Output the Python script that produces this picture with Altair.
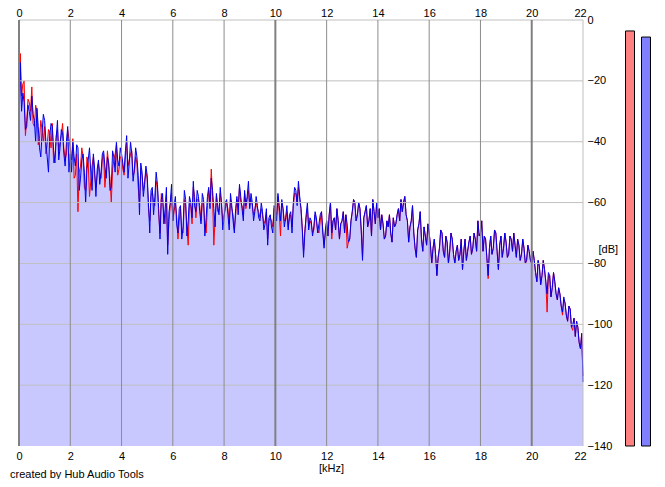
import altair as alt
import pandas as pd

FONT = "Liberation Sans"

freq_khz = [round(i * 0.05, 2) for i in range(441)]

# spectrum, left channel (blue), one row per kHz, 0.05 kHz steps
blue_db = [
    -36, -14, -30, -24, -27, -36, -35, -28, -30, -33, -25, -31, -33, -40, -29, -35, -42, -45, -37, -31,
    -33, -40, -45, -50, -38, -34, -35, -43, -47, -39, -33, -46, -42, -36, -37, -44, -48, -40, -35, -50,
    -44, -50, -40, -45, -48, -41, -42, -56, -52, -46, -44, -50, -60, -49, -46, -42, -50, -56, -44, -49,
    -58, -49, -46, -54, -50, -44, -43, -48, -52, -45, -47, -56, -55, -43, -45, -50, -40, -46, -48, -42,
    -44, -47, -50, -43, -38, -52, -47, -40, -44, -53, -49, -42, -45, -51, -64, -47, -50, -58, -54, -48,
    -51, -60, -70, -56, -55, -64, -58, -50, -54, -62, -72, -59, -57, -67, -62, -55, -77, -63, -60, -54,
    -66, -61, -58, -67, -70, -62, -61, -72, -68, -56, -59, -71, -66, -58, -60, -65, -53, -61, -63, -56,
    -58, -63, -67, -57, -59, -71, -65, -58, -55, -62, -52, -56, -62, -68, -57, -61, -64, -55, -60, -69,
    -65, -60, -59, -64, -69, -57, -61, -66, -70, -62, -58, -64, -54, -58, -62, -66, -56, -61, -58, -53,
    -62, -57, -60, -66, -63, -58, -61, -65, -66, -60, -63, -69, -67, -62, -74, -65, -64, -68, -70, -61,
    -62, -66, -57, -61, -66, -59, -62, -68, -65, -61, -69, -64, -63, -70, -60, -55, -56, -61, -53, -58,
    -62, -69, -78, -70, -64, -60, -69, -65, -66, -71, -68, -63, -65, -70, -67, -64, -63, -70, -75, -69,
    -66, -71, -64, -60, -70, -66, -65, -69, -62, -66, -72, -67, -66, -63, -70, -64, -67, -73, -72, -66,
    -63, -59, -60, -66, -64, -60, -62, -69, -79, -65, -63, -61, -68, -66, -62, -71, -59, -63, -67, -60,
    -65, -62, -69, -64, -67, -72, -71, -66, -68, -64, -70, -73, -65, -68, -67, -64, -62, -66, -59, -63,
    -60, -58, -64, -66, -73, -68, -66, -61, -70, -75, -78, -69, -67, -63, -72, -76, -68, -71, -74, -67,
    -70, -74, -80, -75, -72, -77, -84, -78, -75, -69, -70, -76, -78, -71, -73, -80, -76, -70, -72, -77,
    -80, -76, -74, -79, -77, -72, -82, -76, -72, -79, -76, -73, -71, -77, -75, -70, -72, -76, -66, -71,
    -70, -66, -76, -71, -72, -78, -84, -75, -71, -77, -75, -69, -70, -76, -82, -74, -71, -78, -75, -70,
    -73, -78, -77, -71, -72, -76, -70, -74, -78, -72, -74, -79, -77, -72, -75, -80, -79, -74, -76, -79,
    -80, -76, -79, -83, -86, -79, -81, -87, -84, -79, -82, -86, -90, -83, -84, -91, -88, -83, -86, -90,
    -92, -88, -90, -94, -96, -91, -93, -97, -99, -94, -95, -101, -100, -98, -104, -99, -101, -106, -108, -103,
    -119,
]

# spectrum, right channel (red)
red_db = [
    -38, -11, -25, -21, -20, -38, -33, -26, -27, -30, -22, -34, -35, -28, -30, -41, -39, -33, -36, -40,
    -35, -44, -41, -36, -37, -42, -34, -47, -45, -38, -36, -43, -40, -38, -34, -42, -46, -44, -36, -39,
    -42, -46, -39, -52, -51, -44, -63, -50, -48, -42, -45, -55, -56, -45, -47, -58, -53, -48, -45, -51,
    -55, -51, -47, -50, -52, -46, -44, -55, -50, -43, -48, -52, -60, -49, -46, -44, -41, -51, -49, -45,
    -45, -49, -51, -45, -40, -48, -46, -44, -43, -51, -50, -45, -47, -55, -60, -49, -51, -56, -53, -50,
    -52, -62, -66, -58, -56, -60, -61, -53, -55, -64, -70, -57, -59, -64, -67, -58, -74, -66, -61, -57,
    -66, -63, -60, -64, -72, -66, -62, -69, -70, -59, -61, -68, -74, -60, -61, -67, -55, -58, -65, -59,
    -59, -61, -66, -60, -60, -67, -70, -61, -56, -60, -49, -58, -74, -65, -58, -63, -63, -57, -61, -66,
    -64, -62, -60, -62, -67, -59, -62, -64, -69, -64, -59, -61, -55, -60, -61, -64, -57, -62, -59, -56,
    -61, -59, -61, -64, -62, -60, -62, -63, -65, -62, -64, -67, -66, -63, -72, -66, -65, -66, -68, -62,
    -63, -64, -58, -63, -71, -60, -62, -66, -66, -63, -68, -65, -64, -68, -61, -57, -57, -60, -55, -59,
    -62, -68, -76, -69, -65, -62, -68, -66, -67, -70, -69, -64, -66, -69, -70, -66, -63, -69, -74, -70,
    -66, -71, -64, -60, -72, -66, -65, -69, -62, -66, -72, -67, -66, -63, -70, -64, -75, -73, -72, -66,
    -63, -59, -60, -66, -64, -60, -62, -69, -78, -65, -63, -61, -68, -66, -62, -71, -59, -63, -67, -60,
    -65, -62, -69, -64, -67, -72, -71, -66, -68, -64, -70, -73, -65, -68, -67, -64, -62, -66, -59, -63,
    -60, -58, -64, -66, -73, -68, -66, -61, -70, -75, -78, -69, -67, -63, -72, -76, -68, -71, -74, -67,
    -70, -74, -80, -75, -72, -77, -84, -78, -75, -69, -70, -76, -78, -71, -73, -80, -76, -70, -72, -77,
    -80, -76, -74, -79, -77, -72, -82, -76, -72, -79, -76, -73, -71, -77, -75, -70, -72, -76, -66, -71,
    -70, -66, -76, -71, -72, -78, -85, -75, -71, -77, -75, -69, -70, -76, -82, -74, -71, -78, -75, -70,
    -73, -78, -77, -71, -72, -76, -70, -74, -78, -72, -74, -79, -77, -72, -75, -80, -79, -74, -76, -79,
    -80, -76, -79, -83, -86, -79, -81, -87, -84, -79, -82, -86, -96, -84, -84, -91, -88, -83, -86, -90,
    -92, -88, -90, -94, -97, -92, -93, -97, -99, -94, -95, -101, -102, -98, -104, -99, -101, -106, -108, -103,
    -117,
]

x_ticks = [0, 2, 4, 6, 8, 10, 12, 14, 16, 18, 20, 22]
y_ticks = [0, -20, -40, -60, -80, -100, -120, -140]
grid_db = [0, -20, -40, -60, -80, -100, -120]
grid_khz_minor = [2, 4, 6, 8, 12, 14, 16, 18]
grid_khz_major = [0, 10, 20]
grid_khz_edge = [22]
level_left_db = [-3.6]
level_right_db = [-5.6]
credit = ["created by Hub Audio Tools"]

df = pd.DataFrame({"freq": freq_khz, "blue": blue_db, "red": red_db})

xs = alt.Scale(domain=[0, 22], nice=False, zero=False)
ys = alt.Scale(domain=[-140, 0], nice=False, zero=False)

lab = dict(labelFont=FONT, labelFontSize=11, labelColor="black",
           ticks=False, domain=False, grid=False, labelOverlap=False)
ttl = dict(titleFont=FONT, titleFontSize=11, titleFontWeight="normal",
           titleColor="black")
last_x_shift = {"condition": {"test": "datum.value == 22", "value": -3}, "value": 0}

base = alt.Chart(df)

area_red = base.mark_area(color="#c8c8ff").encode(
    x=alt.X("freq:Q", scale=xs, axis=alt.Axis(orient="top", values=x_ticks,
            labelPadding=2, labelFlush=False, labelOffset=last_x_shift,
            title=None, **lab)),
    y=alt.Y("red:Q", scale=ys, axis=alt.Axis(orient="right", values=y_ticks,
            labelPadding=4, title="[dB]", titleAngle=0, titleX=15, titleY=229,
            titleAlign="left", titleBaseline="middle", **ttl, **lab)),
    y2=alt.datum(-140),
)

area_blue = base.mark_area(color="#c8c8ff").encode(
    x=alt.X("freq:Q", scale=xs, axis=None),
    y=alt.Y("blue:Q", scale=ys, axis=None),
    y2=alt.datum(-140),
)

line_red = base.mark_line(color="#ff0000", strokeWidth=1).encode(
    x=alt.X("freq:Q", scale=xs, axis=None),
    y=alt.Y("red:Q", scale=ys, axis=None),
)

line_blue = base.mark_line(color="#0000ee", strokeWidth=1).encode(
    x=alt.X("freq:Q", scale=xs, axis=alt.Axis(orient="bottom", values=x_ticks,
            labelPadding=4, labelFlush=False, labelOffset=last_x_shift,
            title="[kHz]", titleX=312, titleY=22,
            titleBaseline="middle", **ttl, **lab)),
    y=alt.Y("blue:Q", scale=ys, axis=None),
)

hgrid = alt.Chart(pd.DataFrame({"db": grid_db})).mark_rule(
    color="#c0c0c0", strokeWidth=1).encode(y=alt.Y("db:Q", scale=ys, axis=None))

vgrid_minor = alt.Chart(pd.DataFrame({"k": grid_khz_minor})).mark_rule(
    color="#8c8c8c", strokeWidth=1).encode(x=alt.X("k:Q", scale=xs, axis=None))
vgrid_major = alt.Chart(pd.DataFrame({"k": grid_khz_major})).mark_rule(
    color="#808080", strokeWidth=2).encode(x=alt.X("k:Q", scale=xs, axis=None))
vgrid_edge = alt.Chart(pd.DataFrame({"k": grid_khz_edge})).mark_rule(
    color="#c0c0c0", strokeWidth=1).encode(x=alt.X("k:Q", scale=xs, axis=None))


def level_bar(values, x0, x1, fill):
    d = alt.Chart(pd.DataFrame({"level": values}))
    shadow = d.mark_rect(fill="#c4c4c4", xOffset=4, yOffset=3).encode(
        x=alt.value(x0), x2=alt.value(x1),
        y=alt.Y("level:Q", scale=ys, axis=None), y2=alt.datum(-140))
    bar = d.mark_rect(fill=fill, stroke="black", strokeWidth=1).encode(
        x=alt.value(x0), x2=alt.value(x1),
        y=alt.Y("level:Q", scale=ys, axis=None), y2=alt.datum(-140))
    return shadow + bar


bars = level_bar(level_left_db, 606.5, 615.5, "#ff8080") + \
    level_bar(level_right_db, 622.5, 631.5, "#8080ff")

credit_text = alt.Chart(pd.DataFrame({"t": credit})).mark_text(
    align="left", baseline="middle", font=FONT, fontSize=11, color="black"
).encode(x=alt.value(-9), y=alt.value(455), text="t:N")

chart = alt.layer(
    area_red, area_blue, line_red, line_blue,
    hgrid, vgrid_minor, vgrid_major, vgrid_edge,
    bars, credit_text,
).resolve_axis(x="independent", y="independent").properties(
    width=564, height=426,
    padding={"left": 11, "top": 12, "right": 74, "bottom": 33},
    autosize=alt.AutoSizeParams(type="none"),
    background="white",
).configure_view(stroke=None)

chart.save("out.html", embed_options={"renderer": "svg", "actions": False})
